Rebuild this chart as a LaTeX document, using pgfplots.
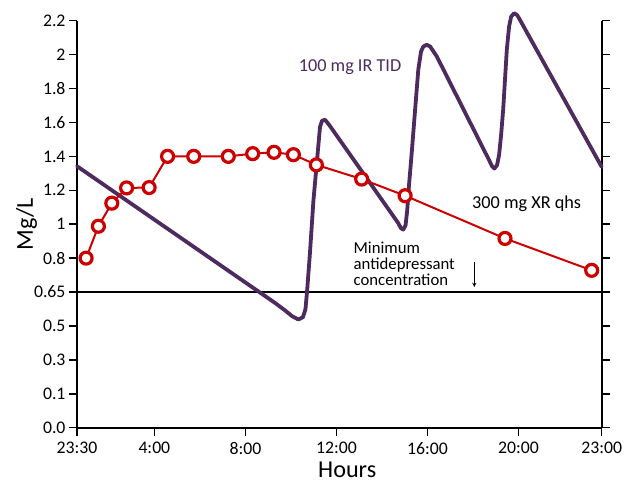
\documentclass[border=0pt]{standalone}
\usepackage{fontspec}
\setmainfont{Carlito}
\usepackage{pgfplots}
\pgfplotsset{compat=1.18}
\definecolor{ir}{HTML}{4D2B5E}
\definecolor{xr}{HTML}{CC0000}

\begin{document}
\begin{tikzpicture}
\useasboundingbox (0bp,0bp) rectangle (633bp,484bp);
\begin{axis}[
  at={(77bp,56.3bp)}, anchor=south west,
  scale only axis, width=524.7bp, height=407bp,
  xmin=0, xmax=23.06, ymin=0, ymax=12,
  clip=false,
  axis x line=bottom, axis y line=box,
  x axis line style={-}, y axis line style={-},
  axis line style={line width=1.8bp},
  xtick={0,3.4,7.4,11.4,15.4,19.4,23.06},
  xticklabels={23:30,4:00,8:00,12:00,16:00,20:00,23:00},
  ytick={0,...,12},
  yticklabels={0.0,0.1,0.3,0.5,0.65,0.8,1,1.2,1.4,1.6,1.8,2,2.2},
  ytick pos=both, yticklabel pos=left,
  tick align=outside, major tick length=8bp,
  every tick/.style={black, line width=1.5bp},
  tick label style={font=\fontsize{17.8}{20}\selectfont},
  xticklabel style={yshift=-3bp},
  label style={font=\fontsize{24.3}{28}\selectfont},
  xlabel={Hours}, ylabel={Mg/L},
  xlabel style={at={(axis description cs:0.515,-0.104)}, anchor=center},
  ylabel style={at={(axis description cs:-0.096,0.5)}, anchor=center},
]
% minimum antidepressant concentration
\addplot[black, line width=1.8bp, no marks] coordinates {(0,4) (23.06,4)};

% 100 mg IR TID
\addplot[ir, line width=3.8bp, line join=round, line cap=round, no marks] coordinates {
  (0,7.71) (8.70,3.68) (9.14,3.46) (9.45,3.29) (9.73,3.19) (9.93,3.26)
  (10.04,3.49) (10.11,4.01) (10.24,5.17) (10.39,6.69) (10.55,7.89)
  (10.68,8.87) (10.77,9.05) (10.90,9.08) (11.08,8.93)
  (14.11,6.04) (14.24,5.88) (14.34,5.84) (14.44,5.97) (14.51,6.39)
  (14.59,7.14) (14.71,8.10) (14.86,9.38) (15.00,10.56) (15.12,11.09)
  (15.22,11.24) (15.37,11.29) (15.52,11.24) (15.81,10.95)
  (18.11,7.89) (18.24,7.71) (18.34,7.64) (18.46,7.74) (18.55,8.04)
  (18.64,8.64) (18.73,9.38) (18.89,11.15) (18.99,11.83) (19.08,12.12)
  (19.21,12.22) (19.34,12.17) (19.47,12.02) (23.06,7.69)
};

% 300 mg XR qhs
\addplot[xr, line width=2bp, mark=*, mark size=6bp,
  mark options={fill=white, draw=xr, line width=3.2bp}] coordinates {
  (0.40,5.00) (0.94,5.94) (1.53,6.62) (2.18,7.07) (3.17,7.08)
  (3.98,8.00) (5.13,8.00) (6.65,8.00) (7.72,8.08) (8.66,8.12)
  (9.51,8.05) (10.52,7.75) (12.51,7.33) (14.42,6.84) (18.81,5.58)
  (22.62,4.64)
};

\node[ir, font=\fontsize{18.3}{20}\selectfont, anchor=center] at (axis cs:12.0,10.63) {100 mg IR TID};
\node[black, font=\fontsize{16.8}{16.2}\selectfont, align=left, anchor=west, inner sep=0pt]
  at (axis cs:12.15,4.84) {Minimum\\antidepressant\\concentration};
\node[black, font=\fontsize{18.3}{20}\selectfont, anchor=center] at (axis cs:19.76,6.61) {300 mg XR qhs};
\draw[black, line width=0.9bp, -stealth] (axis cs:17.46,4.90) -- (axis cs:17.46,4.15);
\end{axis}
\end{tikzpicture}
\end{document}
